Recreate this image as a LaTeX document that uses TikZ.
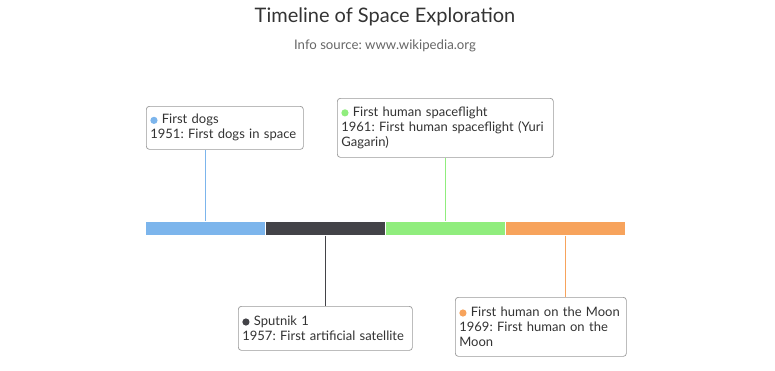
\documentclass[tikz,border=0pt]{standalone}
\usepackage{fontspec}
\setmainfont{Lato}
\usetikzlibrary{positioning}
\definecolor{dogblue}{HTML}{7CB5EC}
\definecolor{sputgray}{HTML}{434348}
\definecolor{flightgreen}{HTML}{90ED7D}
\definecolor{moonorange}{HTML}{F7A35C}
\definecolor{txtgray}{HTML}{333333}
\definecolor{subgray}{HTML}{666666}
\definecolor{boxgray}{HTML}{999999}
\newcommand{\legenddot}[1]{\tikz[baseline=-3.6pt]\fill[#1] (0,0) circle (3.6pt);}
\tikzset{
 bar/.style={rectangle,draw=white,line width=1pt,minimum width=120,minimum height=14,inner sep=0,anchor=north west},
 infobox/.style={rectangle,draw=boxgray,line width=.7pt,rounded corners=3pt,fill=white,anchor=north west,
   align=left,inner xsep=4pt,inner ysep=5pt,text=txtgray,font=\fontsize{13}{15}\selectfont},
 stem/.style={line width=1.1pt}
}
\frenchspacing
\begin{document}
\begin{tikzpicture}[x=1pt,y=-1pt]
\path[use as bounding box] (0,0) rectangle (775,370);
\node[text=txtgray,font=\fontsize{20}{24}\selectfont] (title) at (385,17) {Timeline of Space Exploration};
\node[text=subgray,font=\fontsize{13.2}{15}\selectfont] (source) at (385,46) {Info source: www.wikipedia.org};
% bars
\node[bar,fill=dogblue] (bar1) at (145,220.5) {};
\node[bar,fill=sputgray] (bar2) at (265,220.5) {};
\node[bar,fill=flightgreen] (bar3) at (385,220.5) {};
\node[bar,fill=moonorange] (bar4) at (505,220.5) {};
% labels
\node[infobox,text width=149,minimum height=43] (dogs) at (146,106)
 {\legenddot{dogblue} First dogs\\1951: First dogs in space};
\node[infobox,text width=166,minimum height=44] (sputnik) at (238,306)
 {\legenddot{sputgray} Sputnik 1\\1957: First artificial satellite};
\node[infobox,text width=208,minimum height=59] (gagarin) at (337,98)
 {\legenddot{flightgreen} First human spaceflight\\1961: First human spaceflight (Yuri\\Gagarin)};
\node[infobox,text width=163,minimum height=59] (moon) at (455,297)
 {\legenddot{moonorange} First human on the Moon\\1969: First human on the\\Moon};
% stems
\draw[stem,dogblue] (bar1.north) -- (bar1.north |- dogs.south);
\draw[stem,sputgray] (bar2.south) -- (bar2.south |- sputnik.north);
\draw[stem,flightgreen] (bar3.north) -- (bar3.north |- gagarin.south);
\draw[stem,moonorange] (bar4.south) -- (bar4.south |- moon.north);
\end{tikzpicture}
\end{document}
